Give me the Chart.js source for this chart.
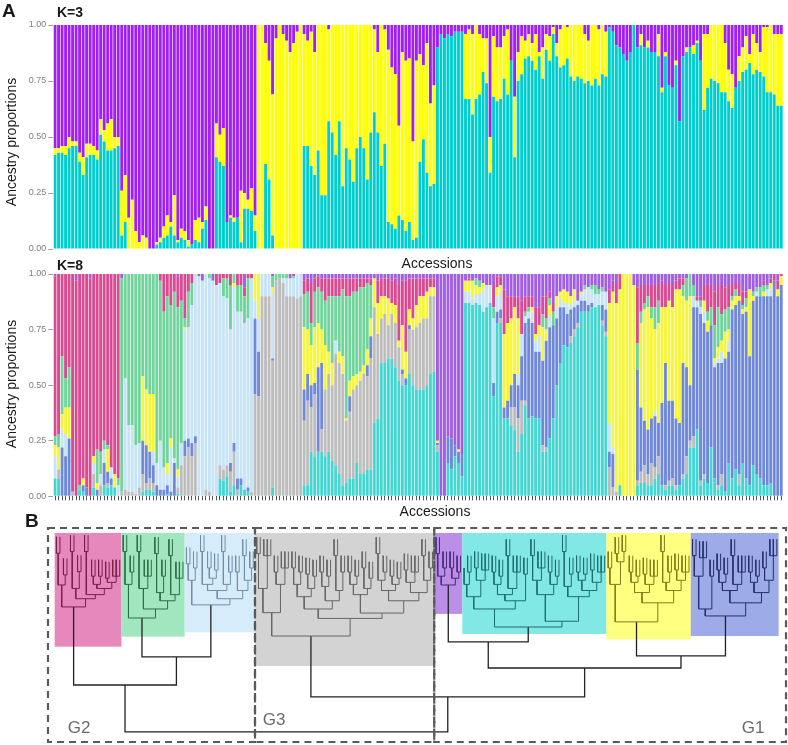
<!DOCTYPE html>
<html><head><meta charset="utf-8">
<script src="https://cdn.jsdelivr.net/npm/chart.js@4.4.1/dist/chart.umd.min.js"></script>
<style>
html,body{margin:0;padding:0;background:#fff;}
#wrap{position:relative;width:788px;height:745px;overflow:hidden;font-family:"Liberation Sans",Arial,sans-serif;color:#1a1a1a;}
canvas{position:absolute;left:0;}
.lbl{position:absolute;white-space:nowrap;line-height:1;}
.yt{font-size:14px;transform:translate(-50%,-50%) rotate(-90deg);}
.xt{font-size:14px;transform:translate(-50%,-50%);}
.g{font-size:17px;color:#6a6a6a;transform:translate(-50%,-50%);}
.b{font-weight:bold;}
</style></head><body><div id="wrap">
<canvas id="c1" width="788" height="270" style="top:0"></canvas>
<canvas id="c2" width="788" height="244" style="top:262px"></canvas>
<canvas id="c3" width="788" height="240" style="top:505px"></canvas>
<div class="lbl b" style="left:2px;top:1px;font-size:19px">A</div>
<div class="lbl b" style="left:57px;top:5px;font-size:14px">K=3</div>
<div class="lbl yt" style="left:11px;top:142px">Ancestry proportions</div>
<div class="lbl xt" style="left:437px;top:263px">Accessions</div>
<div class="lbl b" style="left:57px;top:258px;font-size:14px">K=8</div>
<div class="lbl yt" style="left:11px;top:384px">Ancestry proportions</div>
<div class="lbl xt" style="left:435px;top:511px">Accessions</div>
<div class="lbl b" style="left:25px;top:511px;font-size:19px">B</div>
<div class="lbl g" style="left:79px;top:727px">G2</div>
<div class="lbl g" style="left:274px;top:719px">G3</div>
<div class="lbl g" style="left:753px;top:727px">G1</div>
</div>
<script>
// ---------------- DATA ----------------
// K=3 ancestry proportions (purple = remainder)
const k3Cyan = [
.42,.43,.43,.42,.45,.46,.46,.39,.33,.41,
.42,.42,.40,.51,.48,.44,.44,.45,.46,.06,
.12,0,0,0,0,0,0,0,0,.02,
.03,.05,.06,.10,.06,.03,.05,.04,.01,.02,
.04,.03,.09,.13,0,0,.41,.39,.37,.12,
.14,.12,.14,.03,.18,.18,.17,.08,0,0,
.38,.31,.06,0,0,0,0,0,0,0,
0,.46,.46,.37,.33,.44,.24,.24,.57,.52,
.42,.57,.28,.45,.40,.30,.45,.50,.45,.31,
.52,.61,.52,.37,.47,.12,.11,.09,.15,.13,
.08,.12,.04,.05,.39,.49,.34,.28,.29,.90,
.96,.94,.96,.95,.97,.97,.97,.67,.67,.60,
.67,.69,.79,.74,.34,.68,.66,.67,.76,.69,
.84,.41,.75,.78,.85,.86,.84,.80,.86,.76,
.89,.84,.96,.86,.81,.82,.85,.77,.75,.77,
.76,.74,.75,.73,.76,.73,.78,.77,.99,.97,
.91,.90,.87,.84,.88,1,.90,.91,.90,.90,
.88,.88,.86,.70,.86,.73,.72,.82,.57,.86,
.88,.90,.87,.92,.84,.62,.72,.76,.75,.74,
.70,.70,.66,.63,.72,.75,.79,.80,.83,.78,
.80,.79,.77,.70,.70,.69,.64,.64];
const k3Yellow = [
.03,.02,.03,.04,.05,.02,.02,.04,.08,.06,
.05,.04,.04,.07,.05,.12,.14,.05,.04,.20,
.21,.14,.22,.08,.03,.06,.05,0,0,.01,
.02,.05,.09,.02,.18,.01,.04,.04,.03,0,
.09,.11,.03,.06,0,0,.15,.12,.17,0,
.01,.02,0,.23,.07,.04,.10,.07,1,1,
.54,.53,.63,.94,1,.96,.93,.88,.92,.97,
1,.50,.47,.60,.55,.56,.76,.76,.41,.48,
.58,.43,.72,.55,.60,.70,.55,.50,.55,.69,
.48,.37,.36,.63,.51,.77,.70,.69,.40,.75,
.76,.73,.44,.79,.48,.33,.58,.37,.44,0,
0,0,0,0,0,0,0,.29,.31,.36,
.33,.27,.15,.20,.16,.27,.24,.23,.19,.29,
0,.27,.13,.17,.08,.10,.08,.16,.02,.14,
.07,.11,.03,.06,.17,.18,.14,.23,.25,.23,
.24,.22,.18,.27,.24,.25,.22,.20,0,0,
0,0,0,0,0,0,0,.05,0,.03,
0,0,.10,.02,.02,0,0,.02,0,0,
.02,0,.04,.01,0,.34,.24,.24,.25,.26,
.30,.22,.14,.15,0,.11,.11,.15,.04,.18,
.12,.09,.22,.29,.30,.27,.32,.32];

// K=8 ancestry proportions (purple = remainder)
const k8Cyan = [
.08,.08,0,0,0,0,0,.03,.02,0,
0,.04,0,0,.05,.04,.05,.04,0,0,
0,0,0,0,0,.02,.03,.03,.02,0,
0,0,.01,0,0,.01,0,0,0,0,
0,0,0,0,0,0,0,.08,.07,.09,
.02,.05,0,.05,.03,.02,0,0,0,0,
0,0,.04,0,0,0,0,0,0,0,
0,.05,.05,.20,.18,.20,.20,.18,.20,.16,
.14,.10,.05,.06,.08,.08,.15,.10,.10,.12,
.12,.33,.35,.60,.60,.62,.62,.58,.52,.50,
.50,.55,.50,.48,.48,.48,.50,.55,.56,.20,
0,0,.15,.12,.18,.15,.09,.87,.87,.86,
.87,.86,.83,.85,.87,.45,.78,.78,.35,.35,
.32,.30,.20,.28,.41,.35,.36,.35,.35,.20,
.20,.26,.35,.50,.60,.68,.67,.69,.72,.76,
.83,.83,.83,.85,.85,.86,.77,.72,0,0,
0,.05,0,0,0,0,.05,.06,.06,.05,
.05,.08,.10,.05,.03,.05,.05,.03,.05,.08,
.10,.22,.22,.30,.05,.08,.06,.22,.08,.03,
.05,.02,.15,.08,.12,.05,.15,.08,.05,.14,
.10,.08,.05,.05,.06,0,0,0];
const k8Grey = [
0,.04,0,0,0,.02,0,0,0,0,
0,.06,0,.05,0,.02,0,0,0,.02,
.03,.02,.02,.01,.04,.08,.03,.05,.04,0,
0,0,0,0,0,.03,.14,.18,.22,.18,
.24,0,0,.03,.02,0,0,.06,.05,.05,
.09,.15,.03,0,0,0,.02,.46,.45,.90,
.90,.90,.57,.97,.98,.96,.90,.90,.90,.89,
.90,.29,.38,.20,.28,0,.10,.30,.35,.34,
.50,.50,.50,.28,.30,.40,.35,.42,.45,.42,
.50,.52,.38,.20,.22,.15,.20,.20,.15,.05,
0,.20,.25,.28,.30,.32,.30,.35,.34,.03,
0,0,0,0,0,0,0,0,0,0,
0,0,0,0,0,0,0,.02,0,0,
.08,.10,.15,.15,.02,0,0,0,0,.03,
.02,0,0,0,0,0,0,.03,.03,.02,
0,0,0,0,0,0,.02,.02,.13,.04,
.02,0,0,0,0,0,.02,.05,.08,.05,
.10,.05,.08,0,.02,.02,.03,.02,0,.02,
.08,.03,.05,0,.02,.02,0,0,0,.02,
.05,0,0,0,0,.05,0,0,0,0,
0,0,0,0,0,0,0,0];
const k8Blue = [
0,0,.22,.18,.26,0,0,0,.03,.04,
0,0,.03,0,.10,.05,.03,0,0,0,
0,0,0,0,0,.15,.17,.12,.08,.05,
.03,.03,.04,.02,.15,0,0,.07,.04,.06,
.03,0,0,0,0,0,0,0,0,0,
.04,.04,.05,.03,0,.02,0,.34,.20,0,
0,0,.01,0,0,0,0,0,0,0,
0,.14,.12,.10,.05,.38,.30,0,0,0,
0,0,0,0,.07,0,0,0,0,.05,
.10,0,0,0,0,0,0,0,0,.02,
.03,.02,0,0,0,0,0,0,0,.01,
0,0,.12,.14,.05,.05,.10,0,0,0,
0,0,0,0,0,.06,.05,.04,.05,.08,
.10,.15,.15,.20,.35,.45,.42,.30,.30,.38,
.48,.50,.42,.30,.25,.17,.15,.12,.10,.08,
.05,.05,.03,.02,0,0,.07,.10,.07,.15,
0,0,0,0,0,0,.50,.29,.20,.20,
.20,.23,.15,.37,.55,.36,.35,.30,.28,.50,
.40,.25,.58,.55,.75,.68,.68,.55,.50,.55,
.50,.60,.50,.76,.74,.78,.67,.75,.58,.74,
.80,.82,.85,.85,.84,.97,.90,.95];
const k8LightBlue = [
.10,0,.08,.10,0,0,0,0,0,0,
0,.05,0,.05,.06,0,.05,0,.05,0,
.50,.30,.30,.22,.20,0,0,0,.06,.10,
.22,.10,.05,.20,.02,.05,.10,.50,.50,.62,
.73,.99,.97,.97,.96,.97,.95,.82,.78,.75,
.60,.70,.75,.75,.75,.76,.96,.08,.15,.10,
.10,.10,.29,0,0,.02,.08,.08,.08,.11,
.10,0,0,0,0,0,0,0,0,0,
.06,0,0,0,0,0,0,0,0,0,
0,0,0,0,0,0,0,0,0,0,
0,0,0,0,0,0,0,0,0,0,
0,0,0,0,0,0,0,.05,.05,.03,
.04,.05,.10,.10,.08,.29,.07,.08,0,0,
0,0,.05,.10,.03,.03,.05,.05,.07,0,
0,.05,0,.05,.04,.02,.05,.02,.03,.02,
.03,.05,.08,.06,.06,.05,.06,.08,.13,.03,
0,0,0,0,0,0,0,0,0,0,
0,.02,0,0,0,0,0,0,0,0,
0,0,.05,.03,.03,.05,0,0,.02,.02,
.05,0,.05,0,0,0,0,0,0,0,
.02,0,0,.03,.03,0,0,0];
const k8Yellow = [
.05,.10,.07,.12,.14,0,0,0,.03,0,
0,.03,.03,0,0,.10,0,.06,0,0,
0,0,0,0,0,.29,.25,.26,.26,0,
0,0,.05,.04,0,.03,0,.01,0,0,
0,0,0,0,0,0,0,0,0,0,
0,.02,0,0,0,0,0,.12,.20,0,
0,0,.03,0,0,0,0,0,0,0,
0,.28,.20,.18,.25,.20,.15,.20,.10,.10,
0,.05,.08,.01,.07,.06,.05,.04,.04,.07,
.08,.13,.14,.10,.08,.12,.05,.08,.03,.20,
.12,.07,.05,.10,.12,.10,.12,.04,.04,.01,
0,0,0,0,0,.01,0,.05,.05,.08,
.04,.03,.03,0,0,0,.04,.03,.33,.35,
.30,.30,.25,0,0,0,.02,.03,.05,.15,
.05,.05,0,.05,.03,.06,.05,.04,.05,0,
.01,0,0,0,0,0,0,0,.54,.70,
.85,.88,1,1,1,.95,0,.38,.50,.55,
.45,.37,.45,.43,.25,.45,.42,.58,.60,.30,
.30,.40,0,0,0,.05,.05,0,.02,.05,
.05,.12,.05,.04,.04,.02,.02,.02,.30,.02,
0,0,.02,0,.03,0,.03,.04];
const k8Green = [
.04,.06,.26,.13,.18,0,0,.02,0,0,
0,0,.15,.10,.04,.02,0,0,.03,.96,
.47,.68,.68,.77,.76,.46,.52,.54,.54,.85,
.72,.70,.75,.60,.75,.73,.64,.04,.16,.10,
0,0,0,0,.02,0,0,0,.08,.09,
.20,.04,.12,.12,.12,.18,0,0,0,0,
0,0,.05,.03,.02,.02,.02,0,.01,0,
0,.15,.17,.10,.16,.16,.17,.20,.25,.30,
.20,.25,.30,.55,.38,.38,.37,.38,.35,.30,
.15,0,0,0,0,0,0,0,0,0,
0,0,0,0,0,0,0,0,0,0,
0,0,0,0,0,0,0,0,0,0,
.03,.03,0,0,0,.05,0,0,0,0,
0,0,0,0,.02,.02,0,0,0,.06,
.05,.03,.06,0,0,0,0,0,0,0,
0,.02,0,.02,.04,.02,.02,0,0,0,
0,0,0,0,0,0,.12,.05,.03,.05,
.05,.10,.10,0,0,0,0,0,0,.05,
.10,.10,.05,0,.03,0,.04,.08,.15,.18,
.12,.10,.10,.02,.03,0,.02,.04,0,.02,
.02,.04,.03,.02,0,0,0,0];
const k8Pink = [
.72,.72,.37,.47,.42,.98,.97,.95,.92,.96,
.98,.82,.79,.80,.75,.77,.87,.90,.92,0,
0,0,0,0,0,0,0,0,0,0,
.03,.17,.10,.14,.08,.14,.12,.20,.08,.04,
0,0,0,0,0,0,.05,.04,.02,.02,
.05,0,.05,.05,.04,.02,.02,0,0,0,
0,0,0,0,0,0,0,0,.01,0,
0,.06,.06,.18,.06,.05,.06,.10,.08,.08,
.08,.08,.05,.08,.08,.06,.06,.04,.04,.02,
.03,0,.10,.08,.08,.09,.10,.12,.25,.20,
.32,.14,.18,.12,.08,.08,.06,.04,.04,0,
0,0,0,0,0,0,0,0,.01,0,
0,0,0,0,0,.10,.05,.04,.20,.12,
.10,.05,.10,.15,.07,.05,.05,.12,.08,.08,
.10,.03,.04,0,0,0,0,0,0,0,
0,0,0,0,0,0,0,0,.06,.05,
.08,.07,0,0,0,0,.25,.12,.08,.05,
.10,.10,.07,.12,.10,.08,.10,.04,.05,.03,
0,0,0,.02,.02,.07,.12,.10,.15,.10,
.13,.10,.10,.05,.03,.05,.06,.03,0,0,
0,0,.02,0,.02,.03,.04,.01];

const yTicks = [0, 0.25, 0.5, 0.75, 1];

// Dendrogram: clade subtrees (Newick-like, number after ')' = merge height, leaf = x)
const cladeNames = ['pink','green','lightblue','grey','purple','cyan','yellow','blue'];
const treePink   = "(((x,x)12.8,(x,x)23.4)28.3,(((x,x)12,(x,x)21.8)30,((x,x)12,(((x,x)24,(x,x)24)28,((x,x)25,(x,x,x)24)27)30)33)35)39";
const treeGreen  = "(((x,x)12,(x,x)22)28,(((x,x)12,(x,x,x)24)30,(((x,x)13,(x,x)24)32,((x,x)14,(x,x,x)25)33)36)40)44.4";
const treeLB     = "(((x,x)18,(x,x)20)26,((((x,x)12,((x,x)20,(x,x)21)25)28,((x,x)12,(x,x)22)28)31,((x,x)22,((x,x)14,(x,x)20)26)31)35)38";
const treeGrey   = "((((x,x)13,(x,x,x)14)30,((x,x)22,(x,x,x)20)28)41.8,(((((x,x)20,(x,x)22)28,((x,x)23,(x,x)24)30)34,(((x,x)22,(x,x)24)29,((x,x)14,(x,x)22)31)36)40,((((x,x)22,(x,x)24)28,((x,x)20,(x,x)25)30)33,((((x,x)13,(x,x)22)26,((x,x)24,(x,x)25)28)31,(((x,x)21,(x,x,x)22)27,((x,x)14,(x,x)20)26)32)36)42)44.6)53.2";
const treePurple = "(((x,x)13,(x,x)20)24,((x,x)20,(x,x)22)25)28.3";
const treeCyan   = "((((x,(x,x)22)28,((x,x)20,(x,x,x)21)26)34,((((x,x)22,(x,x)24)28,((x,x)14,(x,x,x)22)30)33,(x,x)23)36)40,((((x,x)14,(x,x,x)20)26,((x,x)22,(x,x)24)28)33,(((x,x)12,(x,x)23)29,(((x,x)22,(x,x)23)26,((x,x)21,(x,x,x)22)27)31)34)46)48.8";
const treeYellow = "(((x,x)20,((x,x)13,(x,x)12)17)28,((((x,x)22,(x,x)24)27,((x,x)23,(x,x,x)24)28)32,(((x,x)12,(x,x)22)27,((x,x)21,(x,x,x)22)26)31)37)46.3";
const treeBlue   = "((((x,x)14,(x,x,x)15)24,(x,x)24)40,((((x,x)21,(x,x)23)27,((x,x)14,(x,x,x)22)28)31,(((x,x)22,(x,x)24)27,((x,x)20,(x,x,x)14)26)32)37)43.4";
const cladeTrees = [treePink,treeGreen,treeLB,treeGrey,treePurple,treeCyan,treeYellow,treeBlue];
// joins between clades (numbers in c = clade index)
const topJoins = {h:100, c:[{h:77.1, c:[0,{h:63.4, c:[1,2]}]},
                            {h:82.9, c:[3,{h:68.8, c:[{h:56.1, c:[4,5]},{h:62.9, c:[6,7]}]}]}]};
const boxBottoms = [58.4,53.5,51.4,67.8,42.4,52.2,54.8,53.2];
const boxTop = 2.9;
const groupDividers = [56.5,107.5]; // leaf positions separating G2 | G3 | G1

// ---------------- STYLE ----------------
const N = k3Cyan.length;
[k3Yellow,k8Cyan,k8Grey,k8Blue,k8LightBlue,k8Yellow,k8Green,k8Pink].forEach((a,j)=>{ if(a.length!==N) throw new Error('length mismatch '+j+': '+a.length); });
const accessions = k3Cyan.map((_,i)=>'Acc'+(i+1));
Chart.defaults.font.family = "'Liberation Sans', Arial, sans-serif";

const k3Purple = k3Cyan.map((c,i)=>Math.max(0, 1 - c - k3Yellow[i]));
const k8Parts = [k8Cyan,k8Grey,k8Blue,k8LightBlue,k8Yellow,k8Green,k8Pink];
const k8Sum = k8Cyan.map((_,i)=>k8Parts.reduce((a,p)=>a+p[i],0));
const k8Scale = k8Sum.map(s=>s>1?1/s:1);
const k8Purple = k8Sum.map(s=>Math.max(0,1-s));

const k3Colors = ['#00cdcd','#ffff00','#a020f0'];
const k8Colors = ['#45d6d2','#bdbdbd','#7088d8','#c7e3f7','#f6f53e','#70d49b','#d84a91','#a25ee0'];

function barDS(vals, color){ return {data: vals, backgroundColor: color, borderWidth: 0, barPercentage: 0.82, categoryPercentage: 1.0}; }

function yAxis(){ return {
  stacked:true, min:0, max:1,
  afterBuildTicks: s => { s.ticks = yTicks.map(v=>({value:v})); },
  ticks:{callback:v=>Number(v).toFixed(2), font:{size:9}, color:'#808080', padding:2},
  grid:{display:true, drawOnChartArea:false, drawTicks:true, tickLength:5, tickColor:'#a0a0a0', lineWidth:1},
  border:{display:false},
  afterFit: s => { s.width = 53.3; }
};}

const common = {responsive:false, animation:false, devicePixelRatio:1, events:[],
  plugins:{legend:{display:false}, tooltip:{enabled:false}}};

new Chart(document.getElementById('c1'), {
  type:'bar',
  data:{labels:accessions, datasets:[barDS(k3Cyan,k3Colors[0]), barDS(k3Yellow,k3Colors[1]), barDS(k3Purple,k3Colors[2])]},
  options:Object.assign({}, common, {
    layout:{padding:{top:25,right:5,bottom:21,left:0}},
    scales:{x:{stacked:true, display:false}, y:yAxis()}
  })
});

const k8Data = k8Parts.map(p=>p.map((v,i)=>v*k8Scale[i])).concat([k8Purple]);
new Chart(document.getElementById('c2'), {
  type:'bar',
  data:{labels:accessions, datasets:k8Data.map((d,j)=>barDS(d,k8Colors[j]))},
  options:Object.assign({}, common, {
    layout:{padding:{top:12,right:5,bottom:0,left:0}},
    scales:{
      x:{stacked:true, ticks:{display:false},
         grid:{display:true, offset:false, drawOnChartArea:false, drawTicks:true, tickLength:4, tickColor:'#555', lineWidth:1},
         border:{display:false}, afterFit: s => { s.height = 9.7; }},
      y:yAxis()
    }
  })
});

// ---------------- DENDROGRAM ----------------
const HANG = 8;
function parseNewick(str){
  let i=0;
  function node(){
    if(str[i]==='('){
      i++; const c=[];
      while(true){ c.push(node()); if(str[i]===','){i++;continue;} if(str[i]===')'){i++;break;} throw new Error('bad tree at '+i); }
      let num=''; while(i<str.length && /[0-9.]/.test(str[i])) num+=str[i++];
      return {h:parseFloat(num), c};
    }
    if(str[i]==='x'){ i++; return {leaf:true}; }
    throw new Error('bad tree char '+str[i]);
  }
  return node();
}
const clades = cladeTrees.map((t,k)=>{ const n=parseNewick(t); n.clade=k; return n; });
function resolve(n){ if(typeof n==='number') return clades[n]; return {h:n.h, c:n.c.map(resolve)}; }
const root = resolve(topJoins);

let leafCounter = 0;
const cladeRange = cladeNames.map(()=>({first:Infinity,last:-Infinity}));
function layout(n, clade){
  if(n.clade!==undefined) clade = n.clade;
  if(n.leaf){ n.x = leafCounter++; if(clade!==undefined){cladeRange[clade].first=Math.min(cladeRange[clade].first,n.x); cladeRange[clade].last=Math.max(cladeRange[clade].last,n.x);} return; }
  n.c.forEach(ch=>layout(ch, clade));
  n.x = (n.c[0].x + n.c[n.c.length-1].x)/2;
}
layout(root, undefined);

const lineColors = ['#7a1f4f','#2d6e47','#6f8fa8','#666666','#4b2a7a','#1d6e6e','#7d7d1a','#24306e'];
const boxColors  = ['#e688bc','#a1e6bf','#d7ecfb','#d3d3d3','#bb8fe8','#82e8e6','#ffff80','#9dabe8'];
const segs = cladeNames.map(()=>[]);
const topSegs = [];
function emit(n, clade){
  if(n.leaf) return;
  if(n.clade!==undefined) clade = n.clade;
  const arr = clade===undefined ? topSegs : segs[clade];
  const tops = n.c.map(ch => ch.leaf ? n.h - HANG : ch.h);
  const L = n.c.length-1;
  arr.push({x:n.c[0].x,y:tops[0]},{x:n.c[0].x,y:n.h},{x:n.c[L].x,y:n.h},{x:n.c[L].x,y:tops[L]},{x:n.c[L].x,y:null});
  for(let k=1;k<L;k++) arr.push({x:n.c[k].x,y:tops[k]},{x:n.c[k].x,y:n.h},{x:n.c[k].x,y:null});
  n.c.forEach(ch=>emit(ch, clade));
}
emit(root, undefined);

const treeDatasets = segs.map((d,k)=>({data:d, showLine:true, borderColor:lineColors[k], borderWidth:1, pointRadius:0, spanGaps:false, tension:0}))
  .concat([{data:topSegs, showLine:true, borderColor:'#222', borderWidth:1.3, pointRadius:0, spanGaps:false, tension:0}]);

const boxPlugin = {id:'cladeBoxes', beforeDatasetsDraw(chart){
  const {ctx, scales:{x,y}} = chart;
  ctx.save();
  cladeRange.forEach((r,k)=>{
    const x0=x.getPixelForValue(r.first-0.5), x1=x.getPixelForValue(r.last+0.5);
    const y0=y.getPixelForValue(boxTop), y1=y.getPixelForValue(boxBottoms[k]);
    ctx.fillStyle=boxColors[k]; ctx.fillRect(x0,y0,x1-x0,y1-y0);
  });
  ctx.restore();
}};
const dashPlugin = {id:'groupBoxes', afterDatasetsDraw(chart){
  const {ctx, chartArea:a, scales:{x}} = chart;
  const edges = [a.left, x.getPixelForValue(groupDividers[0]), x.getPixelForValue(groupDividers[1]), a.right];
  ctx.save();
  ctx.strokeStyle='#5a5a5a'; ctx.lineWidth=2.2; ctx.setLineDash([7,5]);
  for(let k=0;k<3;k++){ ctx.strokeRect(edges[k], a.top+1, edges[k+1]-edges[k], a.bottom-a.top-2); }
  ctx.restore();
}};

new Chart(document.getElementById('c3'), {
  type:'scatter',
  data:{datasets:treeDatasets},
  options:Object.assign({}, common, {
    layout:{padding:{left:48,right:2,top:22,bottom:2}},
    scales:{x:{type:'linear', display:false, min:-2.4, max:207.6},
            y:{type:'linear', display:false, min:0, max:105.4, reverse:true}}
  }),
  plugins:[boxPlugin, dashPlugin]
});
</script>
</body></html>
